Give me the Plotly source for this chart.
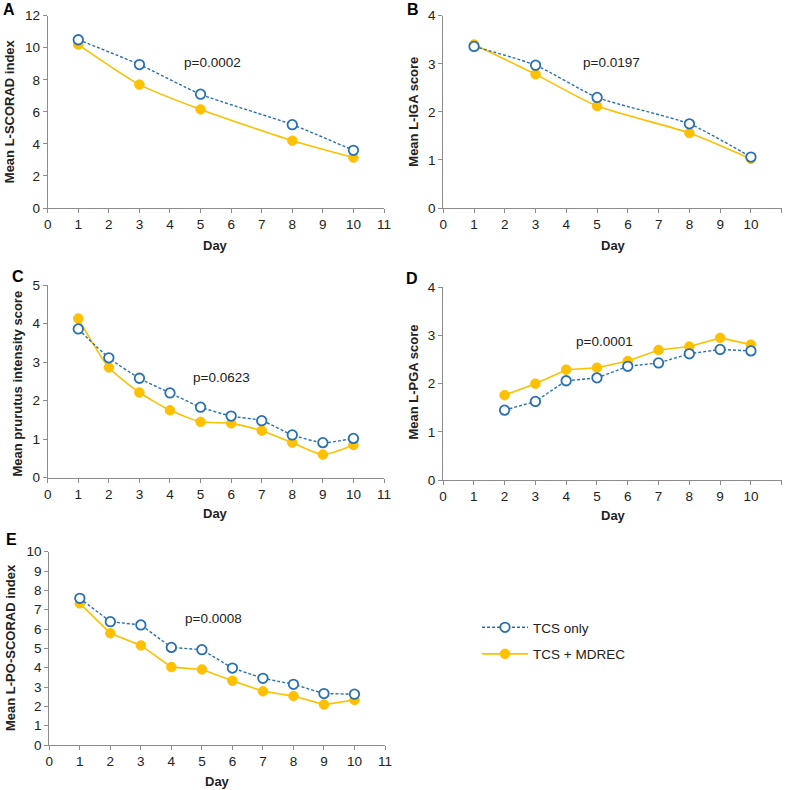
import plotly.graph_objects as go

W, H = 787, 790

# ---- data ----
days_A = [1, 3, 5, 8, 10]
tcs_A = [10.5, 8.95, 7.1, 5.2, 3.6]
mdrec_A = [10.2, 7.7, 6.15, 4.2, 3.15]

days_B = [1, 3, 5, 8, 10]
tcs_B = [3.36, 2.97, 2.3, 1.75, 1.06]
mdrec_B = [3.4, 2.78, 2.12, 1.56, 1.02]

days_C = [1, 2, 3, 4, 5, 6, 7, 8, 9, 10]
tcs_C = [3.86, 3.11, 2.58, 2.2, 1.83, 1.6, 1.48, 1.11, 0.91, 1.02]
mdrec_C = [4.13, 2.86, 2.21, 1.75, 1.45, 1.41, 1.22, 0.91, 0.6, 0.85]

days_D = [2, 3, 4, 5, 6, 7, 8, 9, 10]
tcs_D = [1.45, 1.63, 2.06, 2.12, 2.36, 2.43, 2.62, 2.71, 2.68]
mdrec_D = [1.76, 2.0, 2.29, 2.33, 2.47, 2.7, 2.77, 2.95, 2.81]

days_E = [1, 2, 3, 4, 5, 6, 7, 8, 9, 10]
tcs_E = [7.59, 6.38, 6.21, 5.05, 4.93, 3.98, 3.45, 3.14, 2.66, 2.63]
mdrec_E = [7.33, 5.78, 5.15, 4.03, 3.91, 3.32, 2.78, 2.53, 2.09, 2.33]

panels = [
    # letter, days, tcs, mdrec, ymax, dtick, ytitle, pvalue, p_x, p_y, smooth
    ("A", days_A, tcs_A, mdrec_A, 12, 2, "Mean L-SCORAD index", "p=0.0002", 5.4, 9.1, True),
    ("B", days_B, tcs_B, mdrec_B, 4, 1, "Mean L-IGA score", "p=0.0197", 5.47, 3.03, True),
    ("C", days_C, tcs_C, mdrec_C, 5, 1, "Mean prurutus intensity score", "p=0.0623", 5.7, 2.6, True),
    ("D", days_D, tcs_D, mdrec_D, 4, 1, "Mean L-PGA score", "p=0.0001", 5.23, 2.88, False),
    ("E", days_E, tcs_E, mdrec_E, 10, 1, "Mean L-PO-SCORAD index", "p=0.0008", 5.39, 6.55, False),
]

# pixel boxes: (left, right, top, bottom)
boxes = [
    (47.7, 384.0, 15.7, 208.0),
    (443.3, 781.7, 15.7, 208.0),
    (47.7, 384.0, 285.0, 477.7),
    (443.0, 781.7, 287.3, 480.0),
    (49.3, 385.0, 551.7, 745.0),
]

BLUE = "#2870B5"
GOLD = "#FFC000"
AXIS = "#8C8C8C"
FONT = "Liberation Sans, Arial, sans-serif"

fig = go.Figure()
annotations = []

for i, (box, p) in enumerate(zip(boxes, panels)):
    letter, days, tcs, mdr, ymax, dtick, ytitle, ptxt, px, py, smooth = p
    l, r, t, b = box
    n = i + 1
    xa = "x" if n == 1 else f"x{n}"
    ya = "y" if n == 1 else f"y{n}"
    shape = "spline" if smooth else "linear"
    fig.add_trace(go.Scatter(
        x=days, y=mdr, xaxis=xa, yaxis=ya, mode="lines+markers",
        name="TCS + MDREC", legendgroup="m", showlegend=(n == 1),
        line=dict(color=GOLD, width=1.6, shape=shape, smoothing=0.6),
        marker=dict(color=GOLD, size=9.5, line=dict(color=GOLD, width=1)),
        legendrank=2,
    ))
    fig.add_trace(go.Scatter(
        x=days, y=tcs, xaxis=xa, yaxis=ya, mode="lines+markers",
        name="TCS only", legendgroup="t", showlegend=(n == 1),
        line=dict(color=BLUE, width=1.4, dash="3px,2px", shape=shape, smoothing=0.6),
        marker=dict(color="white", size=9.5, line=dict(color=BLUE, width=1.8)),
        legendrank=1,
    ))
    xkey = "xaxis" if n == 1 else f"xaxis{n}"
    ykey = "yaxis" if n == 1 else f"yaxis{n}"
    fig.layout[xkey] = dict(
        domain=[l / W, r / W], anchor=ya, range=[0, 11], tick0=0, dtick=1,
        showgrid=False, zeroline=False, showline=True, linecolor=AXIS, linewidth=1,
        ticks="outside", ticklen=4, tickcolor=AXIS, automargin=False,
        tickfont=dict(family=FONT, size=13.5, color="#222"),
    )
    fig.layout[ykey] = dict(
        domain=[1 - b / H, 1 - t / H], anchor=xa, range=[0, ymax], tick0=0, dtick=dtick,
        showgrid=False, zeroline=False, showline=True, linecolor=AXIS, linewidth=1,
        ticks="outside", ticklen=4, tickcolor=AXIS, automargin=False,
        tickfont=dict(family=FONT, size=13.5, color="#222"),
    )
    annotations.append(dict(x=px, y=py, xref=xa, yref=ya, text=ptxt, showarrow=False,
                            xanchor="center", yanchor="middle",
                            font=dict(family=FONT, size=13.5, color="#222")))

letters = [("A", 8.5, 10), ("B", 413, 10), ("C", 18, 276), ("D", 412.5, 278), ("E", 11, 539)]
for txt, x, y in letters:
    annotations.append(dict(x=x / W, y=1 - y / H, xref="paper", yref="paper", text=f"<b>{txt}</b>",
                            xanchor="center", yanchor="middle",
                            showarrow=False, font=dict(family=FONT, size=16, color="#000")))

ytitles = [(9.5, 111.7), (414, 111.7), (17.5, 384.0), (414, 382.6), (10, 648.0)]
for (x, y), p in zip(ytitles, panels):
    annotations.append(dict(x=x / W, y=1 - y / H, xref="paper", yref="paper", text=f"<b>{p[6]}</b>",
                            xanchor="center", yanchor="middle",
                            textangle=-90, showarrow=False, font=dict(family=FONT, size=13, color="#222")))

daypos = [(215, 245), (613, 245), (215, 513), (613, 515), (217, 781)]
for x, y in daypos:
    annotations.append(dict(x=x / W, y=1 - y / H, xref="paper", yref="paper", text="<b>Day</b>",
                            xanchor="center", yanchor="middle",
                            showarrow=False, font=dict(family=FONT, size=13, color="#222")))

fig.update_layout(
    template="none",
    width=W, height=H, margin=dict(l=0, r=0, t=0, b=0, pad=0, autoexpand=False),
    paper_bgcolor="white", plot_bgcolor="white",
    annotations=annotations,
    legend=dict(x=477 / W, y=1 - 612 / H, xanchor="left", yanchor="top",
                font=dict(family=FONT, size=13.5, color="#222"), bgcolor="rgba(0,0,0,0)",
                tracegroupgap=6, traceorder="grouped", itemwidth=46),
)

fig.write_html(
    "out.html",
    config={"displayModeBar": False},
    post_script="document.body.style.margin='0';document.body.style.padding='0';"
                "document.body.style.overflow='hidden';",
)
